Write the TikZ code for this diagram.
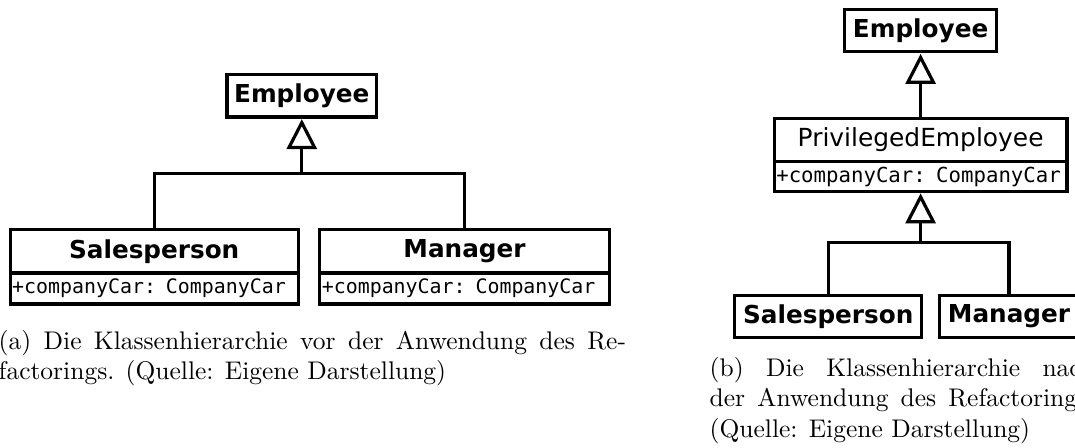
\documentclass[tikz,border=0pt]{standalone}
\usepackage{fontspec}
\usepackage{graphicx}
\usetikzlibrary{arrows.meta}
\newfontfamily\umlsans{DejaVu Sans}
\newfontfamily\umlmono{DejaVu Sans Mono}
% caption text: 10pt design size, scaled up as a whole
\newcommand{\captxt}[1]{\scalebox{2.55}{\fontsize{10}{12}\selectfont #1}}
\begin{document}
\begin{tikzpicture}[x=1pt,y=-1pt,
  box/.style={draw, line width=3.2pt, inner sep=0pt},
  clsname/.style={box, align=center, font={\umlsans\bfseries\fontsize{24.7}{28}\selectfont}},
  clsplain/.style={box, align=center, font={\umlsans\fontsize{24.9}{28}\selectfont}},
  attrA/.style={box, inner xsep=2pt, align=left, font={\umlmono\fontsize{19.9}{22}\selectfont}},
  attrB/.style={box, inner xsep=2pt, align=left, font={\umlmono\fontsize{20.7}{22}\selectfont}},
  conn/.style={line width=3.2pt},
  gen/.style={-{Triangle[open, length=30pt, width=30pt]}, shorten >=0.5pt},
  captext/.style={inner sep=0pt, anchor=base west}
]
\useasboundingbox (0,0) rectangle (1075,447);
\fill[white] (0,0) rectangle (1075,447);
\clip (0,0) rectangle (1075,447);

% ---------- (a) before the refactoring ----------
\node[clsname, minimum width=149.5pt, minimum height=42.2pt] (empA) at (301.8,95.9) {Employee};
\node[clsname, minimum width=287.9pt, minimum height=43.5pt] (salA) at (154.2,251.5) {Salesperson};
\node[attrA, text width=283.9pt, minimum height=31pt] (salAattr) at (154.2,288.5) {+companyCar: CompanyCar};
\node[clsname, minimum width=289.3pt, minimum height=43.5pt] (mgrA) at (464.5,251.5) {Manager};
\node[attrA, text width=285.3pt, minimum height=31pt] (mgrAattr) at (464.5,288.5) {+companyCar: CompanyCar};
\coordinate (jA) at (301.8,173.7);
\draw[conn] (salA.north) |- (jA);
\draw[conn] (mgrA.north) |- (jA);
\draw[conn, gen] (jA) -- (empA.south);

\node[captext] (capA1) at (-1.5,349) {\captxt{\makebox[246pt][s]{(a) Die Klassenhierarchie vor der Anwendung des Re-}}};
\node[captext] (capA2) at (-1.5,379.6) {\captxt{factorings. (Quelle: Eigene Darstellung)}};

% ---------- (b) after the refactoring ----------
\node[clsname, minimum width=152pt, minimum height=42pt] (empB) at (920.6,30.8) {Employee};
\node[clsplain, minimum width=292.6pt, minimum height=43.5pt] (privB) at (920.6,140) {PrivilegedEmployee};
\node[attrB, text width=288.6pt, minimum height=29.5pt] (privBattr) at (920.6,176.5) {+companyCar: CompanyCar};
\node[clsname, minimum width=187pt, minimum height=41.8pt] (salB) at (828.3,316.4) {Salesperson};
\node[clsname, minimum width=138.4pt, minimum height=41.8pt] (mgrB) at (1009,316.4) {Manager};
\coordinate (jB) at (920.6,242.7);
\draw[conn, gen] (privB.north) -- (empB.south);
\draw[conn] (salB.north) |- (jB);
\draw[conn] (mgrB.north) |- (jB);
\draw[conn, gen] (jB) -- (privBattr.south);

\node[captext] (capB1) at (709.5,376) {\captxt{\makebox[150.8pt][s]{(b) Die Klassenhierarchie nach}}};
\node[captext] (capB2) at (709.5,406.7) {\captxt{\makebox[150.8pt][s]{der Anwendung des Refactorings.}}};
\node[captext] (capB3) at (709.5,437.3) {\captxt{(Quelle: Eigene Darstellung)}};
\end{tikzpicture}
\end{document}
